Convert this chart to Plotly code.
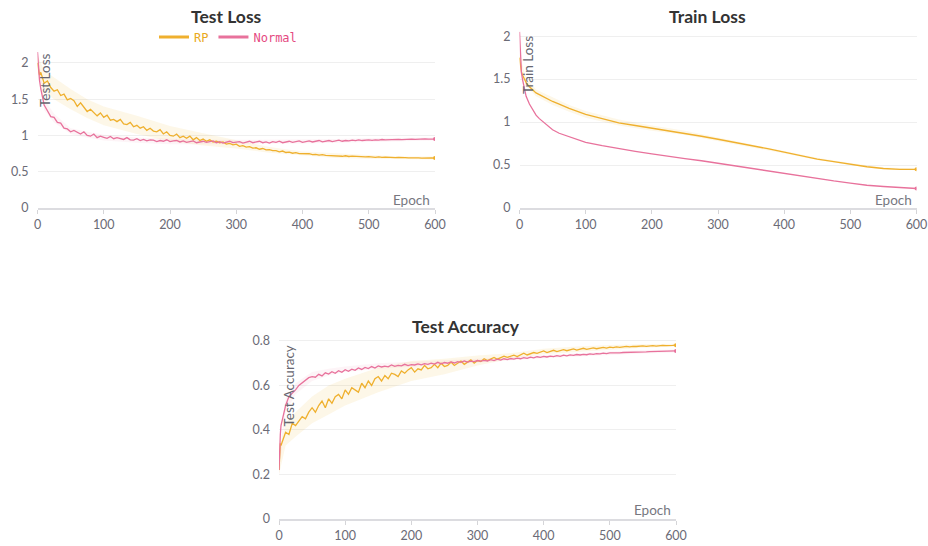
import plotly.graph_objects as go

# ---------------- data ----------------
EPOCHS = [0, 1, 2, 3] + list(range(5, 601, 5))

TEST_LOSS_RP = [
    2.00, 1.92, 1.90, 1.83, 1.87,
    1.72, 1.75, 1.66, 1.61, 1.63, 1.55, 1.57, 1.49, 1.51, 1.48,
    1.40, 1.45, 1.39, 1.33, 1.36, 1.32, 1.27, 1.31, 1.25, 1.28,
    1.21, 1.22, 1.19, 1.22, 1.16, 1.15, 1.18, 1.12, 1.14, 1.10,
    1.12, 1.07, 1.10, 1.06, 1.05, 1.08, 1.02, 1.05, 1.00, 0.99,
    1.02, 0.97, 0.99, 0.96, 0.99, 0.94, 0.97, 0.93, 0.95, 0.92,
    0.94, 0.91, 0.92, 0.90, 0.91, 0.88, 0.89, 0.87, 0.88, 0.85,
    0.86, 0.84, 0.845, 0.825, 0.83, 0.81, 0.82, 0.80, 0.805, 0.79,
    0.79, 0.775, 0.785, 0.765, 0.77, 0.755, 0.762, 0.75, 0.748, 0.742,
    0.748, 0.735, 0.74, 0.728, 0.735, 0.725, 0.722, 0.728, 0.716, 0.722,
    0.713, 0.72, 0.71, 0.716, 0.712, 0.707, 0.713, 0.704, 0.708, 0.703,
    0.699, 0.705, 0.697, 0.701, 0.695, 0.699, 0.693, 0.697, 0.691, 0.694,
    0.69, 0.693, 0.688, 0.691, 0.687, 0.69, 0.687, 0.689, 0.688,
]
TEST_LOSS_NORMAL = [
    2.15, 1.95, 1.84, 1.76, 1.64,
    1.42, 1.34, 1.26, 1.25, 1.18, 1.17, 1.10, 1.09, 1.05, 1.07,
    1.04, 1.02, 1.05, 1.00, 0.99, 1.02, 0.97, 0.99, 0.975, 0.96,
    0.985, 0.955, 0.97, 0.96, 0.945, 0.97, 0.94, 0.935, 0.955, 0.93,
    0.945, 0.925, 0.94, 0.935, 0.915, 0.93, 0.92, 0.94, 0.915, 0.925,
    0.93, 0.91, 0.925, 0.905, 0.92, 0.925, 0.90, 0.915, 0.92, 0.905,
    0.91, 0.925, 0.90, 0.915, 0.895, 0.91, 0.92, 0.90, 0.905, 0.915,
    0.895, 0.91, 0.92, 0.90, 0.905, 0.92, 0.90, 0.91, 0.895, 0.915,
    0.905, 0.92, 0.90, 0.91, 0.92, 0.905, 0.915, 0.925, 0.905, 0.915,
    0.925, 0.91, 0.92, 0.93, 0.912, 0.922, 0.93, 0.915, 0.925, 0.935,
    0.92, 0.93, 0.925, 0.935, 0.928, 0.938, 0.93, 0.936, 0.94, 0.932,
    0.94, 0.936, 0.944, 0.938, 0.942, 0.946, 0.94, 0.947, 0.943, 0.948,
    0.945, 0.95, 0.946, 0.951, 0.948, 0.952, 0.949, 0.952, 0.95,
]
TEST_ACC_RP = [
    0.22, 0.30, 0.34, 0.33, 0.35,
    0.39, 0.38, 0.43, 0.42, 0.44, 0.46, 0.45, 0.48, 0.50, 0.48,
    0.51, 0.53, 0.50, 0.54, 0.52, 0.55, 0.56, 0.54, 0.58, 0.56,
    0.59, 0.58, 0.57, 0.61, 0.59, 0.62, 0.60, 0.63, 0.64, 0.62,
    0.645, 0.63, 0.655, 0.65, 0.64, 0.665, 0.655, 0.67, 0.68, 0.66,
    0.675, 0.67, 0.69, 0.675, 0.68, 0.695, 0.68, 0.70, 0.685, 0.69,
    0.705, 0.69, 0.70, 0.71, 0.695, 0.705, 0.715, 0.70, 0.712, 0.708,
    0.72, 0.712, 0.718, 0.726, 0.718, 0.724, 0.732, 0.726, 0.73, 0.736,
    0.73, 0.738, 0.745, 0.737, 0.742, 0.748, 0.744, 0.75, 0.755, 0.748,
    0.754, 0.758, 0.752, 0.757, 0.761, 0.756, 0.76, 0.764, 0.759, 0.763,
    0.767, 0.762, 0.766, 0.769, 0.765, 0.768, 0.771, 0.768, 0.772, 0.77,
    0.773, 0.771, 0.774, 0.776, 0.773, 0.776, 0.775, 0.777, 0.778, 0.776,
    0.778, 0.779, 0.777, 0.779, 0.78, 0.779, 0.781, 0.78, 0.781,
]
TEST_ACC_NORMAL = [
    0.22, 0.33, 0.38, 0.42, 0.45,
    0.51, 0.55, 0.565, 0.58, 0.60, 0.612, 0.622, 0.635, 0.64, 0.637,
    0.65, 0.643, 0.657, 0.651, 0.662, 0.655, 0.666, 0.659, 0.671, 0.664,
    0.673, 0.668, 0.679, 0.672, 0.681, 0.676, 0.685, 0.678, 0.688, 0.683,
    0.687, 0.684, 0.692, 0.686, 0.69, 0.688, 0.695, 0.689, 0.694, 0.692,
    0.697, 0.693, 0.698, 0.695, 0.70, 0.696, 0.704, 0.697, 0.703, 0.70,
    0.706, 0.701, 0.707, 0.704, 0.71, 0.705, 0.709, 0.707, 0.712, 0.709,
    0.713, 0.71, 0.716, 0.712, 0.718, 0.714, 0.72, 0.716, 0.721, 0.718,
    0.723, 0.72, 0.725, 0.722, 0.727, 0.724, 0.729, 0.726, 0.731, 0.728,
    0.732, 0.73, 0.734, 0.731, 0.736, 0.733, 0.737, 0.735, 0.739, 0.737,
    0.74, 0.738, 0.742, 0.74, 0.743, 0.742, 0.745, 0.743, 0.746, 0.745,
    0.747, 0.746, 0.748, 0.748, 0.749, 0.749, 0.75, 0.75, 0.751, 0.751,
    0.752, 0.752, 0.753, 0.753, 0.754, 0.754, 0.755, 0.755, 0.755,
]

TRAIN_EPOCHS = [0, 1, 2, 3, 5, 8, 10, 15, 20, 25, 30, 40, 50, 60, 75, 100,
                125, 150, 175, 200, 225, 250, 275, 300, 325, 350, 375, 400,
                425, 450, 475, 500, 525, 550, 575, 600]
TRAIN_LOSS_RP = [1.75, 1.68, 1.62, 1.58, 1.54, 1.49, 1.46, 1.41, 1.37, 1.34,
                 1.32, 1.28, 1.24, 1.21, 1.16, 1.09, 1.04, 0.99, 0.96, 0.93,
                 0.90, 0.87, 0.835, 0.80, 0.765, 0.725, 0.69, 0.65, 0.61,
                 0.57, 0.54, 0.51, 0.48, 0.46, 0.45, 0.45]
TRAIN_LOSS_NORMAL = [2.05, 1.80, 1.66, 1.57, 1.48, 1.35, 1.30, 1.21, 1.14,
                     1.08, 1.04, 0.97, 0.91, 0.87, 0.83, 0.765, 0.725, 0.69,
                     0.66, 0.63, 0.60, 0.575, 0.55, 0.52, 0.49, 0.46, 0.43,
                     0.40, 0.37, 0.34, 0.315, 0.29, 0.265, 0.25, 0.235, 0.227]

BAND_EPOCHS = [0, 10, 25, 50, 75, 100, 150, 200, 250, 300, 350, 400, 450, 500, 550, 600]
TEST_LOSS_RP_LO = [1.90, 1.60, 1.50, 1.36, 1.24, 1.14, 1.02, 0.92, 0.86, 0.82, 0.76, 0.72, 0.69, 0.68, 0.67, 0.67]
TEST_LOSS_RP_HI = [2.10, 1.90, 1.80, 1.64, 1.50, 1.40, 1.27, 1.13, 1.03, 0.93, 0.84, 0.78, 0.75, 0.73, 0.71, 0.71]
TEST_LOSS_N_LO = [2.00, 1.35, 1.18, 1.02, 0.97, 0.93, 0.90, 0.88, 0.88, 0.88, 0.88, 0.89, 0.90, 0.91, 0.92, 0.93]
TEST_LOSS_N_HI = [2.20, 1.50, 1.30, 1.10, 1.05, 1.01, 0.97, 0.95, 0.94, 0.94, 0.94, 0.94, 0.95, 0.96, 0.96, 0.97]
TRAIN_LOSS_RP_LO = [1.70, 1.42, 1.30, 1.20, 1.12, 1.05, 0.96, 0.90, 0.85, 0.78, 0.71, 0.635, 0.56, 0.50, 0.45, 0.44]
TRAIN_LOSS_RP_HI = [1.80, 1.50, 1.38, 1.29, 1.20, 1.13, 1.03, 0.96, 0.90, 0.82, 0.74, 0.665, 0.585, 0.525, 0.47, 0.46]
TEST_ACC_RP_LO = [0.20, 0.33, 0.37, 0.43, 0.47, 0.51, 0.57, 0.62, 0.65, 0.69, 0.72, 0.74, 0.75, 0.76, 0.77, 0.775]
TEST_ACC_RP_HI = [0.30, 0.43, 0.48, 0.55, 0.60, 0.63, 0.68, 0.71, 0.72, 0.735, 0.745, 0.765, 0.775, 0.782, 0.785, 0.787]
TEST_ACC_N_LO = [0.20, 0.48, 0.56, 0.62, 0.645, 0.66, 0.675, 0.685, 0.695, 0.705, 0.712, 0.722, 0.73, 0.738, 0.744, 0.748]
TEST_ACC_N_HI = [0.25, 0.54, 0.61, 0.66, 0.675, 0.685, 0.70, 0.705, 0.713, 0.72, 0.728, 0.738, 0.746, 0.753, 0.758, 0.762]

X_TICKS = [0, 100, 200, 300, 400, 500, 600]
LOSS_TICKS = [0, 0.5, 1, 1.5, 2]
ACC_TICKS = [0, 0.2, 0.4, 0.6, 0.8]

SERIES = ["RP", "Normal"]
COLORS = {"RP": "#efb02e", "Normal": "#e8729c"}
BAND_COLORS = {"RP": "rgba(240,180,50,0.11)", "Normal": "rgba(232,114,156,0.08)"}
TEXT_COLORS = {"RP": "#e9a91c", "Normal": "#e5497f"}

for arr in (TEST_LOSS_RP, TEST_LOSS_NORMAL, TEST_ACC_RP, TEST_ACC_NORMAL):
    assert len(arr) == len(EPOCHS), len(arr)
assert len(TRAIN_LOSS_RP) == len(TRAIN_EPOCHS) == len(TRAIN_LOSS_NORMAL)

# ---------------- layout helpers (reference pixel -> paper fraction) ----------------
REF_W, REF_H = 928, 546


def px_x(x):
    return x / REF_W


def px_y(y):
    return 1 - y / REF_H


FONT = "Lato"
TICK_COLOR = "#6b6b76"
GRID = "#efefef"

fig = go.Figure()

panels = [
    # (axis suffix, x px range, y px top/bottom, y range)
    ("", (37.5, 435), (52, 208), (0, 2.15)),
    ("2", (519.5, 916.5), (31, 208), (0, 2.06)),
    ("3", (279, 676), (336.5, 519), (0, 0.82)),
]


def add_band(ax, xs, lo, hi, name):
    xa = "x" + ax
    ya = "y" + ax
    fig.add_trace(go.Scatter(x=xs, y=lo, xaxis=xa, yaxis=ya, mode="lines",
                             line=dict(width=0), hoverinfo="skip", showlegend=False))
    fig.add_trace(go.Scatter(x=xs, y=hi, xaxis=xa, yaxis=ya, mode="lines",
                             line=dict(width=0), fill="tonexty",
                             fillcolor=BAND_COLORS[name], hoverinfo="skip",
                             showlegend=False))


def add_line(ax, xs, ys, name):
    xa = "x" + ax
    ya = "y" + ax
    fig.add_trace(go.Scatter(x=xs, y=ys, xaxis=xa, yaxis=ya, mode="lines",
                             line=dict(color=COLORS[name], width=1.3),
                             name=name, showlegend=False, legendgroup=name))
    fig.add_trace(go.Scatter(x=[xs[-1]], y=[ys[-1]], xaxis=xa, yaxis=ya,
                             mode="markers", marker=dict(color=COLORS[name], size=4),
                             showlegend=False, hoverinfo="skip"))


# Test loss
add_band("", BAND_EPOCHS, TEST_LOSS_RP_LO, TEST_LOSS_RP_HI, "RP")
add_band("", BAND_EPOCHS, TEST_LOSS_N_LO, TEST_LOSS_N_HI, "Normal")
add_line("", EPOCHS, TEST_LOSS_RP, "RP")
add_line("", EPOCHS, TEST_LOSS_NORMAL, "Normal")

# Train loss
add_band("2", BAND_EPOCHS, TRAIN_LOSS_RP_LO, TRAIN_LOSS_RP_HI, "RP")
add_line("2", TRAIN_EPOCHS, TRAIN_LOSS_RP, "RP")
add_line("2", TRAIN_EPOCHS, TRAIN_LOSS_NORMAL, "Normal")

# Test accuracy
add_band("3", BAND_EPOCHS, TEST_ACC_RP_LO, TEST_ACC_RP_HI, "RP")
add_band("3", BAND_EPOCHS, TEST_ACC_N_LO, TEST_ACC_N_HI, "Normal")
add_line("3", EPOCHS, TEST_ACC_RP, "RP")
add_line("3", EPOCHS, TEST_ACC_NORMAL, "Normal")

# Legend entries (thick swatches, coloured labels)
for name in SERIES:
    fig.add_trace(go.Scatter(x=[None], y=[None], mode="lines",
                             line=dict(color=COLORS[name], width=3),
                             name="<span style='color:%s'>%s</span>" % (TEXT_COLORS[name], name),
                             legendgroup=name, showlegend=True, hoverinfo="skip"))

layout = dict(
    autosize=True,
    margin=dict(l=0, r=0, t=0, b=0, autoexpand=False),
    paper_bgcolor="white", plot_bgcolor="white",
    font=dict(family=FONT, size=12, color=TICK_COLOR),
    showlegend=True,
    legend=dict(orientation="h", x=px_x(228), y=px_y(37), xanchor="center",
                yanchor="middle", font=dict(family="DejaVu Sans Mono", size=12),
                bgcolor="rgba(0,0,0,0)", itemwidth=30, tracegroupgap=0),
)

annotations = []
titles = [("Test Loss", 226, 16), ("Train Loss", 707, 16), ("Test Accuracy", 466, 326)]
for t, x, y in titles:
    annotations.append(dict(text="<b>%s</b>" % t, x=px_x(x), y=px_y(y), xref="paper",
                            yref="paper", showarrow=False, xanchor="center",
                            yanchor="middle", font=dict(family=FONT, size=17.5, color="#333333")))

ytitles = [("Test Loss", 45, 51), ("Train Loss", 528, 34), ("Test Accuracy", 288, 344)]
for t, x, y in ytitles:
    annotations.append(dict(text=t, x=px_x(x), y=px_y(y), xref="paper", yref="paper",
                            showarrow=False, textangle=-90, xanchor="center",
                            yanchor="top", font=dict(family=FONT, size=13.5, color="#666670")))

epoch_pos = [(432, 200), (914, 200), (673, 510)]
for x, y in epoch_pos:
    annotations.append(dict(text="Epoch", x=px_x(x), y=px_y(y), xref="paper", yref="paper",
                            showarrow=False, xanchor="right", yanchor="middle",
                            font=dict(family=FONT, size=13.5, color="#777780")))

layout["annotations"] = annotations

for ax, (x0, x1), (ytop, ybot), yr in panels:
    yticks = ACC_TICKS if ax == "3" else LOSS_TICKS
    layout["xaxis" + ax] = dict(
        domain=[px_x(x0), px_x(x1)], range=[0, 600], anchor="y" + ax,
        tickvals=X_TICKS, ticks="outside", ticklen=4, tickcolor="#d5d5d8",
        showline=True, linecolor="#dcdce0", linewidth=1.5,
        showgrid=False, zeroline=False, tickfont=dict(size=12.5, color=TICK_COLOR),
        fixedrange=True,
    )
    layout["yaxis" + ax] = dict(
        domain=[px_y(ybot), px_y(ytop)], range=list(yr), anchor="x" + ax,
        tickvals=yticks, ticktext=[("%g" % v) for v in yticks],
        showgrid=True, gridcolor=GRID, gridwidth=1, zeroline=False,
        showline=False, ticks="", ticklabelstandoff=8,
        tickfont=dict(size=12.5, color=TICK_COLOR), fixedrange=True,
    )

fig.update_layout(**layout)

# Fill the browser window exactly: drop the default page margin and let the
# figure size itself to the viewport.
FILL_WINDOW_JS = (
    "document.documentElement.style.margin='0';document.body.style.margin='0';"
    "document.documentElement.style.overflow='hidden';document.body.style.overflow='hidden';"
    "var gd=document.getElementById('{plot_id}');"
    "gd.style.width='100vw';gd.style.height='100vh';"
    "Plotly.Plots.resize(gd);"
)
fig.write_html("out.html", default_width="100vw", default_height="100vh",
               config={"displayModeBar": False, "responsive": True},
               post_script=FILL_WINDOW_JS)
